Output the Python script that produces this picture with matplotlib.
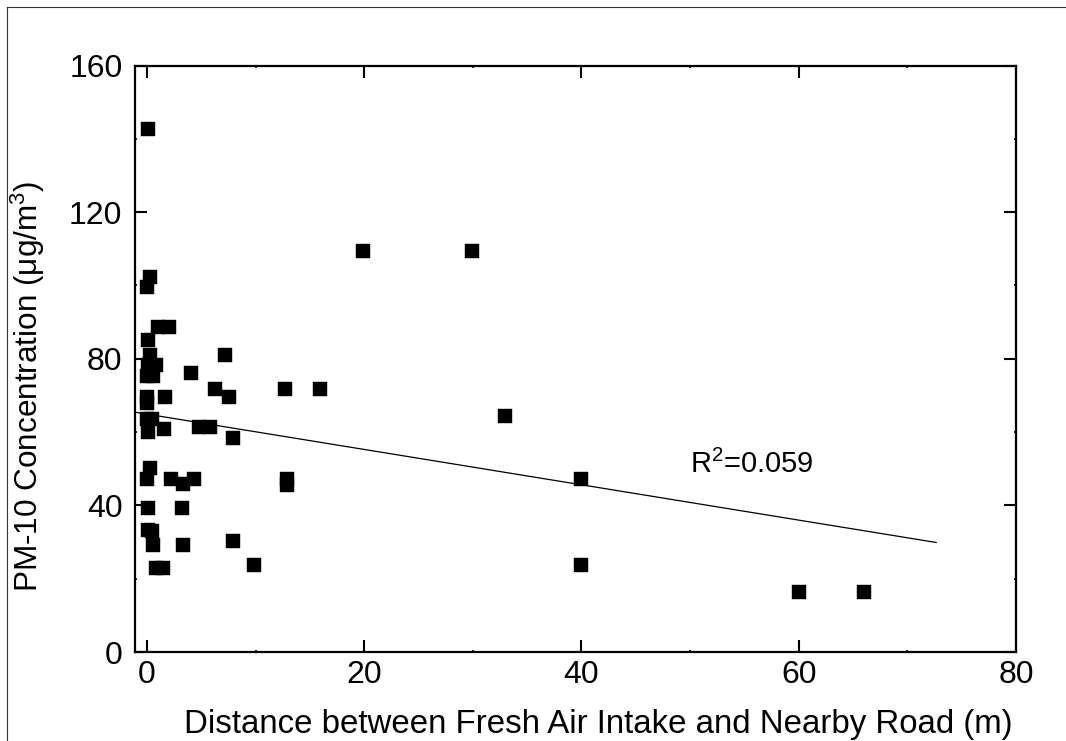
import matplotlib
matplotlib.use("Agg")
import matplotlib.pyplot as plt
from matplotlib.ticker import MultipleLocator
from matplotlib.lines import Line2D
import numpy as np

# distance (m) and PM-10 values
distance = [0.06, 19.9, 29.95, 0.24, 0.0, 1.0, 2.0, 0.1, 7.2, 0.3,
            0.1, 0.85, 0.05, 0.6, 4.1, 6.3, 12.7, 15.9, 7.6, 0.0,
            0.0, 1.7, 0.05, 0.5, 33.0, 0.1, 1.6, 4.8, 5.8, 7.9,
            0.3, 0.0, 2.2, 4.3, 3.3, 12.9, 12.9, 40.0, 0.1, 3.2,
            0.1, 0.5, 0.6, 3.3, 7.9, 0.8, 1.5, 9.9, 40.0, 60.0, 66.0]
pm10 = [142.8, 109.5, 109.5, 102.4, 99.7, 88.7, 88.7, 85.0, 81.0, 81.1,
        78.3, 78.3, 75.2, 75.2, 76.0, 71.7, 71.8, 71.8, 69.5, 69.5,
        67.9, 69.5, 63.7, 63.7, 64.3, 60.1, 60.9, 61.4, 61.4, 58.4,
        50.1, 47.1, 47.1, 47.1, 45.7, 47.3, 45.6, 47.2, 39.2, 39.2,
        33.4, 33.0, 29.1, 29.1, 30.2, 22.9, 22.9, 23.7, 23.6, 16.3, 16.3]

# linear fit as drawn in the reference
fit_intercept = 64.9
fit_slope = -0.482
fit_x_end = 72.65
r2_text = "R$^2$=0.059"

plt.rcParams["font.family"] = ["Liberation Sans", "DejaVu Sans"]
plt.rcParams["mathtext.fontset"] = "custom"
plt.rcParams["mathtext.rm"] = "Liberation Sans"
plt.rcParams["mathtext.it"] = "Liberation Sans"
plt.rcParams["mathtext.default"] = "regular"

fig = plt.figure(figsize=(10.66, 7.41), dpi=100)
ax = fig.add_axes([0.1266, 0.1201, 0.8265, 0.7915])

xmin, xmax = -1.1, 80
ax.plot(distance, pm10, "s", color="black", ms=9.6, mec="black", mew=0.3, zorder=3)

fx = np.array([xmin, fit_x_end])
ax.plot(fx, fit_intercept + fit_slope * fx, color="black", lw=0.9, zorder=2)
ax.text(55.7, 51.2, r2_text, fontsize=21, ha="center", va="center")

ax.set_xlim(xmin, xmax)
ax.set_ylim(0, 160)
ax.xaxis.set_major_locator(MultipleLocator(20))
ax.xaxis.set_minor_locator(MultipleLocator(10))
ax.yaxis.set_major_locator(MultipleLocator(40))
ax.yaxis.set_minor_locator(MultipleLocator(20))

ax.tick_params(which="both", direction="in", top=True, right=True)
ax.tick_params(which="major", length=8.5, width=1.5, labelsize=23)
ax.tick_params(which="minor", length=1.6, width=1.2)
ax.tick_params(axis="x", which="major", pad=6)
ax.tick_params(axis="y", which="major", pad=9)
for s in ax.spines.values():
    s.set_linewidth(1.6)

ax.set_xlabel("Distance between Fresh Air Intake and Nearby Road (m)", fontsize=23.8)
ax.set_ylabel("PM-10 Concentration (μg/m$^3$)", fontsize=22.7)
ax.xaxis.set_label_coords(0.526, -0.097)
ax.yaxis.set_label_coords(-0.100, 0.4535)

# outer frame (left and top edges visible)
fig.add_artist(Line2D([7 / 1066, 7 / 1066], [0, 1 - 7 / 741], transform=fig.transFigure, color="#333333", lw=0.8))
fig.add_artist(Line2D([7 / 1066, 1], [1 - 7 / 741, 1 - 7 / 741], transform=fig.transFigure, color="#333333", lw=0.8))

fig.savefig("out.png", dpi=100)
